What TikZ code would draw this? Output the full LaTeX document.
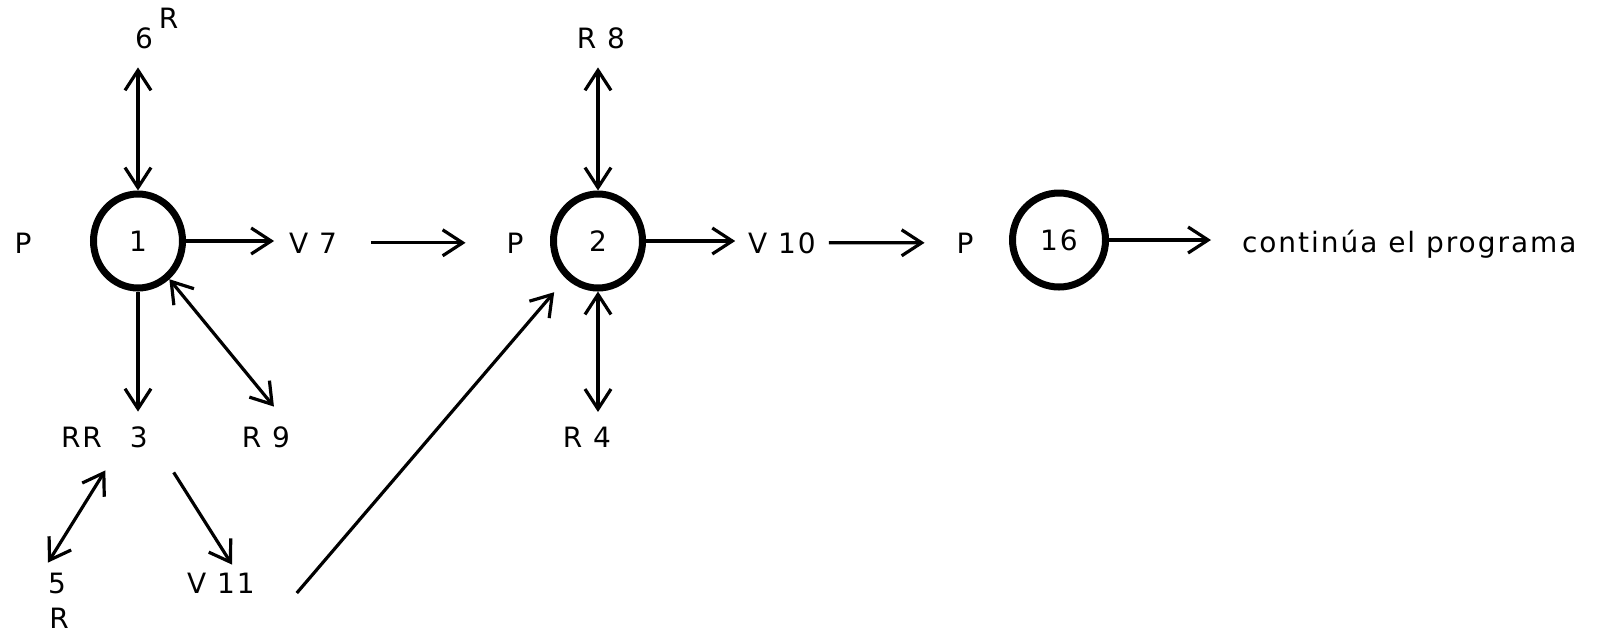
\documentclass[tikz,border=0pt]{standalone}
\usepackage{fontspec}
\setmainfont{DejaVu Sans}[LetterSpace=7]
\usetikzlibrary{arrows.meta,shapes.geometric}
\tikzset{barb/.tip={Straight Barb[length=10pt,width=13pt]}}
\begin{document}
\begin{tikzpicture}[x=0.5pt,y=-0.5pt,
  lbl/.style={inner sep=0pt,outer sep=0pt,anchor=base,font=\fontsize{14pt}{17pt}\selectfont},
  circ/.style={draw,ellipse,line width=3.5pt,inner sep=0pt,minimum width=44.5pt,minimum height=47pt,font=\fontsize{14pt}{17pt}\selectfont},
  arr/.style={line width=1.6pt,-barb},
  dbl/.style={line width=1.6pt,barb-barb}]
\useasboundingbox (0,0) rectangle (1598,633);
% nodes
\node[lbl] (p1) at (23,253) {P};
\node[circ] (c1) at (138,241) {1};
\node[lbl,anchor=base west] (six) at (135,48) {6\kern3pt\raisebox{10pt}{R}};
\node[lbl] (v7) at (313,253) {V 7};
\node[lbl] (p2) at (515,253) {P};
\node[circ] (c2) at (598,241) {2};
\node[lbl] (r8) at (601,48) {R 8};
\node[lbl] (v10) at (782,253) {V 10};
\node[lbl] (p3) at (965,253) {P};
\node[circ,minimum width=46.5pt] (c16) at (1059,240) {16};
\node[lbl,anchor=base west] (cont) at (1242,252) {continúa el programa};
\node[lbl,anchor=base west] (rr3) at (61,447) {RR\hspace{14pt}3};
\node[lbl] (r9) at (266,447) {R 9};
\node[lbl] (r4) at (587,447) {R 4};
\node[lbl] (five) at (57,593) {5};
\node[lbl] (fiveR) at (59,628) {R};
\node[lbl] (v11) at (221,593) {V 11};
% connectors
\draw[dbl,shorten >=9.5pt] (c1.north) -- (c1.north |- six.south);
\draw[arr,shorten >=7.3pt] (c1.south) -- (c1.south |- rr3.north);
\draw[dbl,shorten >=12.7pt] (c1) -- (r9.north east);
\draw[arr,shorten >=7.5pt] (c1.east) -- (c1.east -| v7.west);
\draw[arr,shorten <=17pt,shorten >=20.5pt] (v7.east) -- (p2.west);
\draw[dbl,shorten >=9.5pt] (c2.north) -- (c2.north |- r8.south);
\draw[dbl,shorten >=7.3pt] (c2.south) -- (c2.south |- r4.north);
\draw[arr,shorten >=6.5pt] (c2.east) -- (c2.east -| v10.west);
\draw[arr,shorten <=6.5pt,shorten >=16pt] (v10.east) -- (p3.west);
\draw[arr,shorten >=15.5pt] (c16.east) -- (c16.east -| cont.west);
\draw[dbl] ([shift={(1,23)}]rr3.south) -- ([shift={(-9,-10)}]five.north);
\draw[arr] ([shift={(26,25)}]rr3.south east) -- ([shift={(11,-8)}]v11.north);
\draw[arr,shorten >=9pt] ([shift={(42,0)}]v11.south east) -- (c2);
\end{tikzpicture}
\end{document}
